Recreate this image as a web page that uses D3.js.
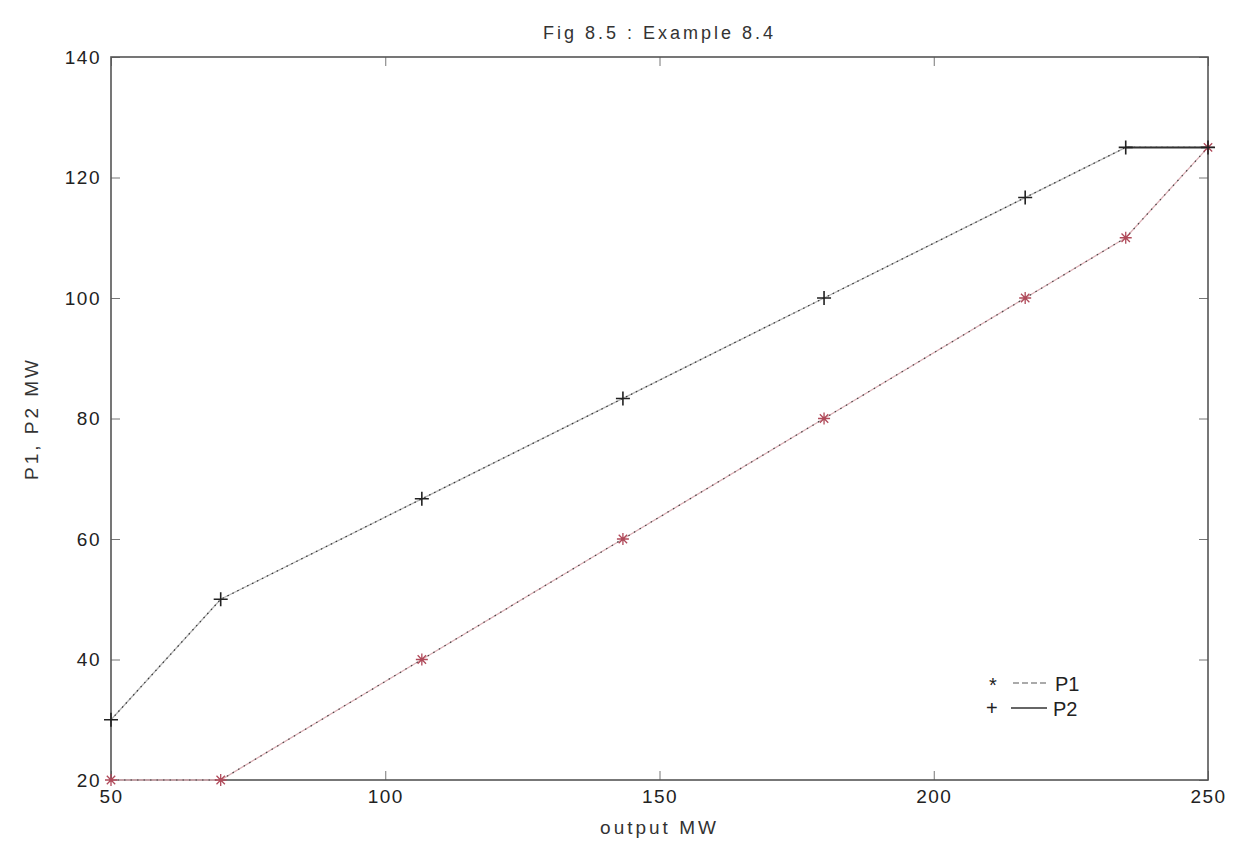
<!DOCTYPE html>
<html>
<head>
<meta charset="utf-8">
<script src="https://cdn.jsdelivr.net/npm/d3@7"></script>
<style>
  body { margin: 0; background: #fff; }
  svg { display: block; font-family: "Liberation Sans", Arial, sans-serif; }
</style>
</head>
<body>
<svg id="chart" width="1251" height="852"></svg>
<script>
// total output (MW) and the two unit loadings
const outputMW = [50, 70, 106.67, 143.33, 180, 216.67, 235, 250];
const p1 = [20, 20, 40, 60, 80, 100, 110, 125];
const p2 = [30, 50, 66.67, 83.33, 100, 116.67, 125, 125];

const xTicks = [50, 100, 150, 200, 250];
const yTicks = [20, 40, 60, 80, 100, 120, 140];

const title = "Fig 8.5 : Example 8.4";
const xLabel = "output MW";
const yLabel = "P1, P2 MW";

const width = 1251;
const height = 852;
const margin = { top: 57, right: 43, bottom: 72, left: 111 };

const svg = d3.select("#chart");

const x = d3.scaleLinear()
  .domain([50, 250])
  .range([margin.left, width - margin.right]);

const y = d3.scaleLinear()
  .domain([20, 140])
  .range([height - margin.bottom, margin.top]);

// axes with MATLAB-style inward ticks
const tickLen = 9;

svg.append("g")
  .attr("transform", `translate(0,${y(20)})`)
  .call(d3.axisBottom(x).tickValues(xTicks).tickSizeInner(-tickLen).tickSizeOuter(0).tickPadding(10))
  .call(g => g.select(".domain").remove());

svg.append("g")
  .attr("transform", `translate(0,${y(140)})`)
  .call(d3.axisTop(x).tickValues(xTicks).tickSizeInner(-tickLen).tickSizeOuter(0).tickFormat(""))
  .call(g => g.select(".domain").remove());

svg.append("g")
  .attr("transform", `translate(${x(50)},0)`)
  .call(d3.axisLeft(y).tickValues(yTicks).tickSizeInner(-tickLen).tickSizeOuter(0).tickPadding(10))
  .call(g => g.select(".domain").remove());

svg.append("g")
  .attr("transform", `translate(${x(250)},0)`)
  .call(d3.axisRight(y).tickValues(yTicks).tickSizeInner(-tickLen).tickSizeOuter(0).tickFormat(""))
  .call(g => g.select(".domain").remove());

svg.selectAll(".tick line").attr("stroke", "#777").attr("stroke-width", 1);
svg.selectAll(".tick text")
  .attr("font-size", 19)
  .attr("letter-spacing", 1.5)
  .attr("fill", "#222")
  .attr("font-family", "Liberation Sans, Arial, sans-serif");

svg.append("rect")
  .attr("x", x(50))
  .attr("y", y(140))
  .attr("width", x(250) - x(50))
  .attr("height", y(20) - y(140))
  .attr("fill", "none")
  .attr("stroke", "#555")
  .attr("stroke-width", 1.6);

const line = (vals) => d3.line()
  .x((d, i) => x(outputMW[i]))
  .y(d => y(d))(vals);

// P1 - light red base with dark dots
svg.append("path")
  .attr("d", line(p1))
  .attr("fill", "none")
  .attr("stroke", "#dcb0b6")
  .attr("stroke-width", 1.3);
svg.append("path")
  .attr("d", line(p1))
  .attr("fill", "none")
  .attr("stroke", "#444")
  .attr("stroke-width", 1.2)
  .attr("stroke-dasharray", "1.5 5");

// P2 - grey base with dark dots
svg.append("path")
  .attr("d", line(p2))
  .attr("fill", "none")
  .attr("stroke", "#b5b5b5")
  .attr("stroke-width", 1.3);
svg.append("path")
  .attr("d", line(p2))
  .attr("fill", "none")
  .attr("stroke", "#333")
  .attr("stroke-width", 1.2)
  .attr("stroke-dasharray", "1.5 4");

// last flat segment of P2 drawn heavier
svg.append("line")
  .attr("x1", x(outputMW[6])).attr("y1", y(p2[6]))
  .attr("x2", x(outputMW[7])).attr("y2", y(p2[7]))
  .attr("stroke", "#333")
  .attr("stroke-width", 2);

// markers
const plus = (g, cx, cy, r, color) => {
  g.append("path")
    .attr("d", `M${cx - r},${cy}H${cx + r}M${cx},${cy - r}V${cy + r}`)
    .attr("stroke", color)
    .attr("stroke-width", 1.6)
    .attr("fill", "none");
};
const star = (g, cx, cy, r, color) => {
  const d = r * 0.7;
  g.append("path")
    .attr("d", `M${cx - r},${cy}H${cx + r}M${cx},${cy - r}V${cy + r}M${cx - d},${cy - d}L${cx + d},${cy + d}M${cx - d},${cy + d}L${cx + d},${cy - d}`)
    .attr("stroke", color)
    .attr("stroke-width", 1.3)
    .attr("fill", "none");
};

const marks = svg.append("g");
p1.forEach((v, i) => star(marks, x(outputMW[i]), y(v), 6, "#b04a5a"));
p2.forEach((v, i) => plus(marks, x(outputMW[i]), y(v), 7, "#222"));

// title and labels
svg.append("text")
  .attr("x", (x(50) + x(250)) / 2)
  .attr("y", 39)
  .attr("text-anchor", "middle")
  .attr("font-size", 18)
  .attr("letter-spacing", 3)
  .attr("fill", "#333")
  .text(title);

svg.append("text")
  .attr("x", (x(50) + x(250)) / 2)
  .attr("y", 834)
  .attr("text-anchor", "middle")
  .attr("font-size", 19)
  .attr("letter-spacing", 3)
  .attr("fill", "#333")
  .text(xLabel);

svg.append("text")
  .attr("transform", `translate(38,${(y(20) + y(140)) / 2}) rotate(-90)`)
  .attr("text-anchor", "middle")
  .attr("font-size", 19)
  .attr("letter-spacing", 3)
  .attr("fill", "#333")
  .text(yLabel);

// legend (text-style as in the original)
const legend = svg.append("g").attr("font-size", 20).attr("fill", "#222");
legend.append("text").attr("x", 989).attr("y", 692).text("*");
legend.append("line")
  .attr("x1", 1013).attr("x2", 1047).attr("y1", 683).attr("y2", 683)
  .attr("stroke", "#aaa").attr("stroke-width", 2).attr("stroke-dasharray", "6 3");
legend.append("text").attr("x", 1055).attr("y", 691).text("P1");

legend.append("text").attr("x", 986).attr("y", 715).text("+");
legend.append("line")
  .attr("x1", 1011).attr("x2", 1047).attr("y1", 708).attr("y2", 708)
  .attr("stroke", "#333").attr("stroke-width", 1.6);
legend.append("text").attr("x", 1053).attr("y", 716).text("P2");
</script>
</body>
</html>
